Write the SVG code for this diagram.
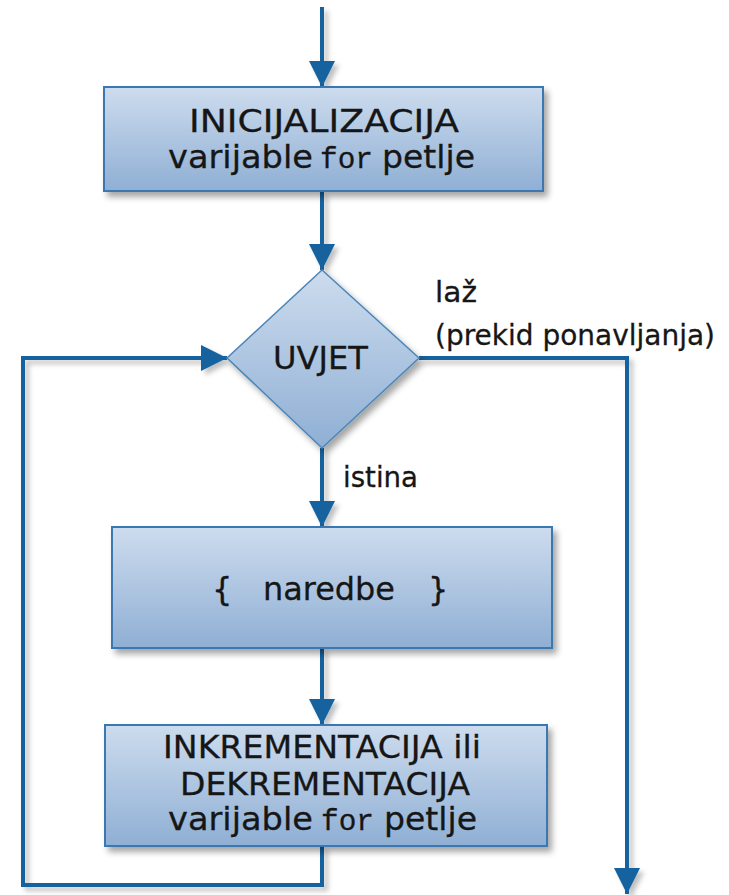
<svg xmlns="http://www.w3.org/2000/svg" width="729" height="895" viewBox="0 0 729 895">
<defs>
<linearGradient id="g" x1="0" y1="0" x2="0" y2="1">
<stop offset="0" stop-color="#cddcee"/>
<stop offset="1" stop-color="#8fafd4"/>
</linearGradient>
<filter id="sh" x="-10%" y="-10%" width="130%" height="130%">
<feDropShadow dx="4" dy="5" stdDeviation="3" flood-color="#000" flood-opacity="0.35"/>
</filter>
<filter id="lsh" x="-5%" y="-5%" width="115%" height="115%">
<feDropShadow dx="4" dy="4" stdDeviation="2.5" flood-color="#000" flood-opacity="0.25"/>
</filter>
<marker id="ah" markerUnits="userSpaceOnUse" markerWidth="26" markerHeight="26" refX="26" refY="13" orient="auto">
<path d="M0,0 L26,13 L0,26 z" fill="#14629e"/>
</marker>
</defs>
<style>
.box{fill:url(#g);stroke:#3a78b2;stroke-width:2;filter:url(#sh)}
.t{font-family:"DejaVu Sans",Verdana,sans-serif;font-size:32px;fill:#161616;stroke:#161616;stroke-width:0.3}
.m{font-family:"Liberation Mono","Courier New",monospace;font-size:30px;fill:#161616;stroke:#161616;stroke-width:0.3}
.lbl{font-family:"DejaVu Sans",Verdana,sans-serif;font-size:29px;fill:#161616;stroke:#161616;stroke-width:0.3}
.c{fill:none;stroke:#14629e;stroke-width:4;marker-end:url(#ah)}
</style>
<g id="connectors" filter="url(#lsh)">
<path class="c" d="M322,7 L322,87"/>
<path class="c" d="M322,191 L322,270"/>
<path class="c" d="M322,448 L322,527"/>
<path class="c" d="M322,648 L322,725"/>
<path class="c" d="M322,846 L322,885 L23,885 L23,358 L227,358"/>
<path class="c" d="M419,358 L627,358 L627,894"/>
</g>
<g id="init">
<rect class="box" x="104" y="87" width="439" height="104"/>
<text class="t" x="324" y="132" text-anchor="middle" textLength="270" lengthAdjust="spacingAndGlyphs">INICIJALIZACIJA</text>
<text y="168"><tspan class="t" x="168" textLength="145" lengthAdjust="spacingAndGlyphs">varijable</tspan><tspan class="m" x="320" textLength="53" lengthAdjust="spacingAndGlyphs">for</tspan><tspan class="t" x="382" textLength="93" lengthAdjust="spacingAndGlyphs">petlje</tspan></text>
</g>
<g id="uvjet">
<polygon class="box" points="322,270 419,358 322,448 227,358" style="stroke:#4a86ba;stroke-width:1.5"/>
<text class="t" x="320.5" y="369" text-anchor="middle" textLength="95" lengthAdjust="spacingAndGlyphs">UVJET</text>
</g>
<g id="labels">
<text class="lbl" x="435" y="302" textLength="42" lengthAdjust="spacingAndGlyphs">laž</text>
<text class="lbl" x="435" y="345" textLength="280" lengthAdjust="spacingAndGlyphs">(prekid ponavljanja)</text>
<text class="lbl" x="343" y="487" textLength="75" lengthAdjust="spacingAndGlyphs">istina</text>
</g>
<g id="naredbe">
<rect class="box" x="112" y="527" width="440" height="121"/>
<text y="600"><tspan class="t" x="212">{</tspan><tspan class="t" x="263" textLength="132" lengthAdjust="spacingAndGlyphs">naredbe</tspan><tspan class="t" x="428">}</tspan></text>
</g>
<g id="inkrement">
<rect class="box" x="105" y="725" width="442" height="121"/>
<text class="t" x="322" y="758" text-anchor="middle" textLength="318" lengthAdjust="spacingAndGlyphs">INKREMENTACIJA ili</text>
<text class="t" x="325" y="795" text-anchor="middle" textLength="290" lengthAdjust="spacingAndGlyphs">DEKREMENTACIJA</text>
<text y="830"><tspan class="t" x="168" textLength="145" lengthAdjust="spacingAndGlyphs">varijable</tspan><tspan class="m" x="321" textLength="53" lengthAdjust="spacingAndGlyphs">for</tspan><tspan class="t" x="384" textLength="93" lengthAdjust="spacingAndGlyphs">petlje</tspan></text>
</g>
</svg>
